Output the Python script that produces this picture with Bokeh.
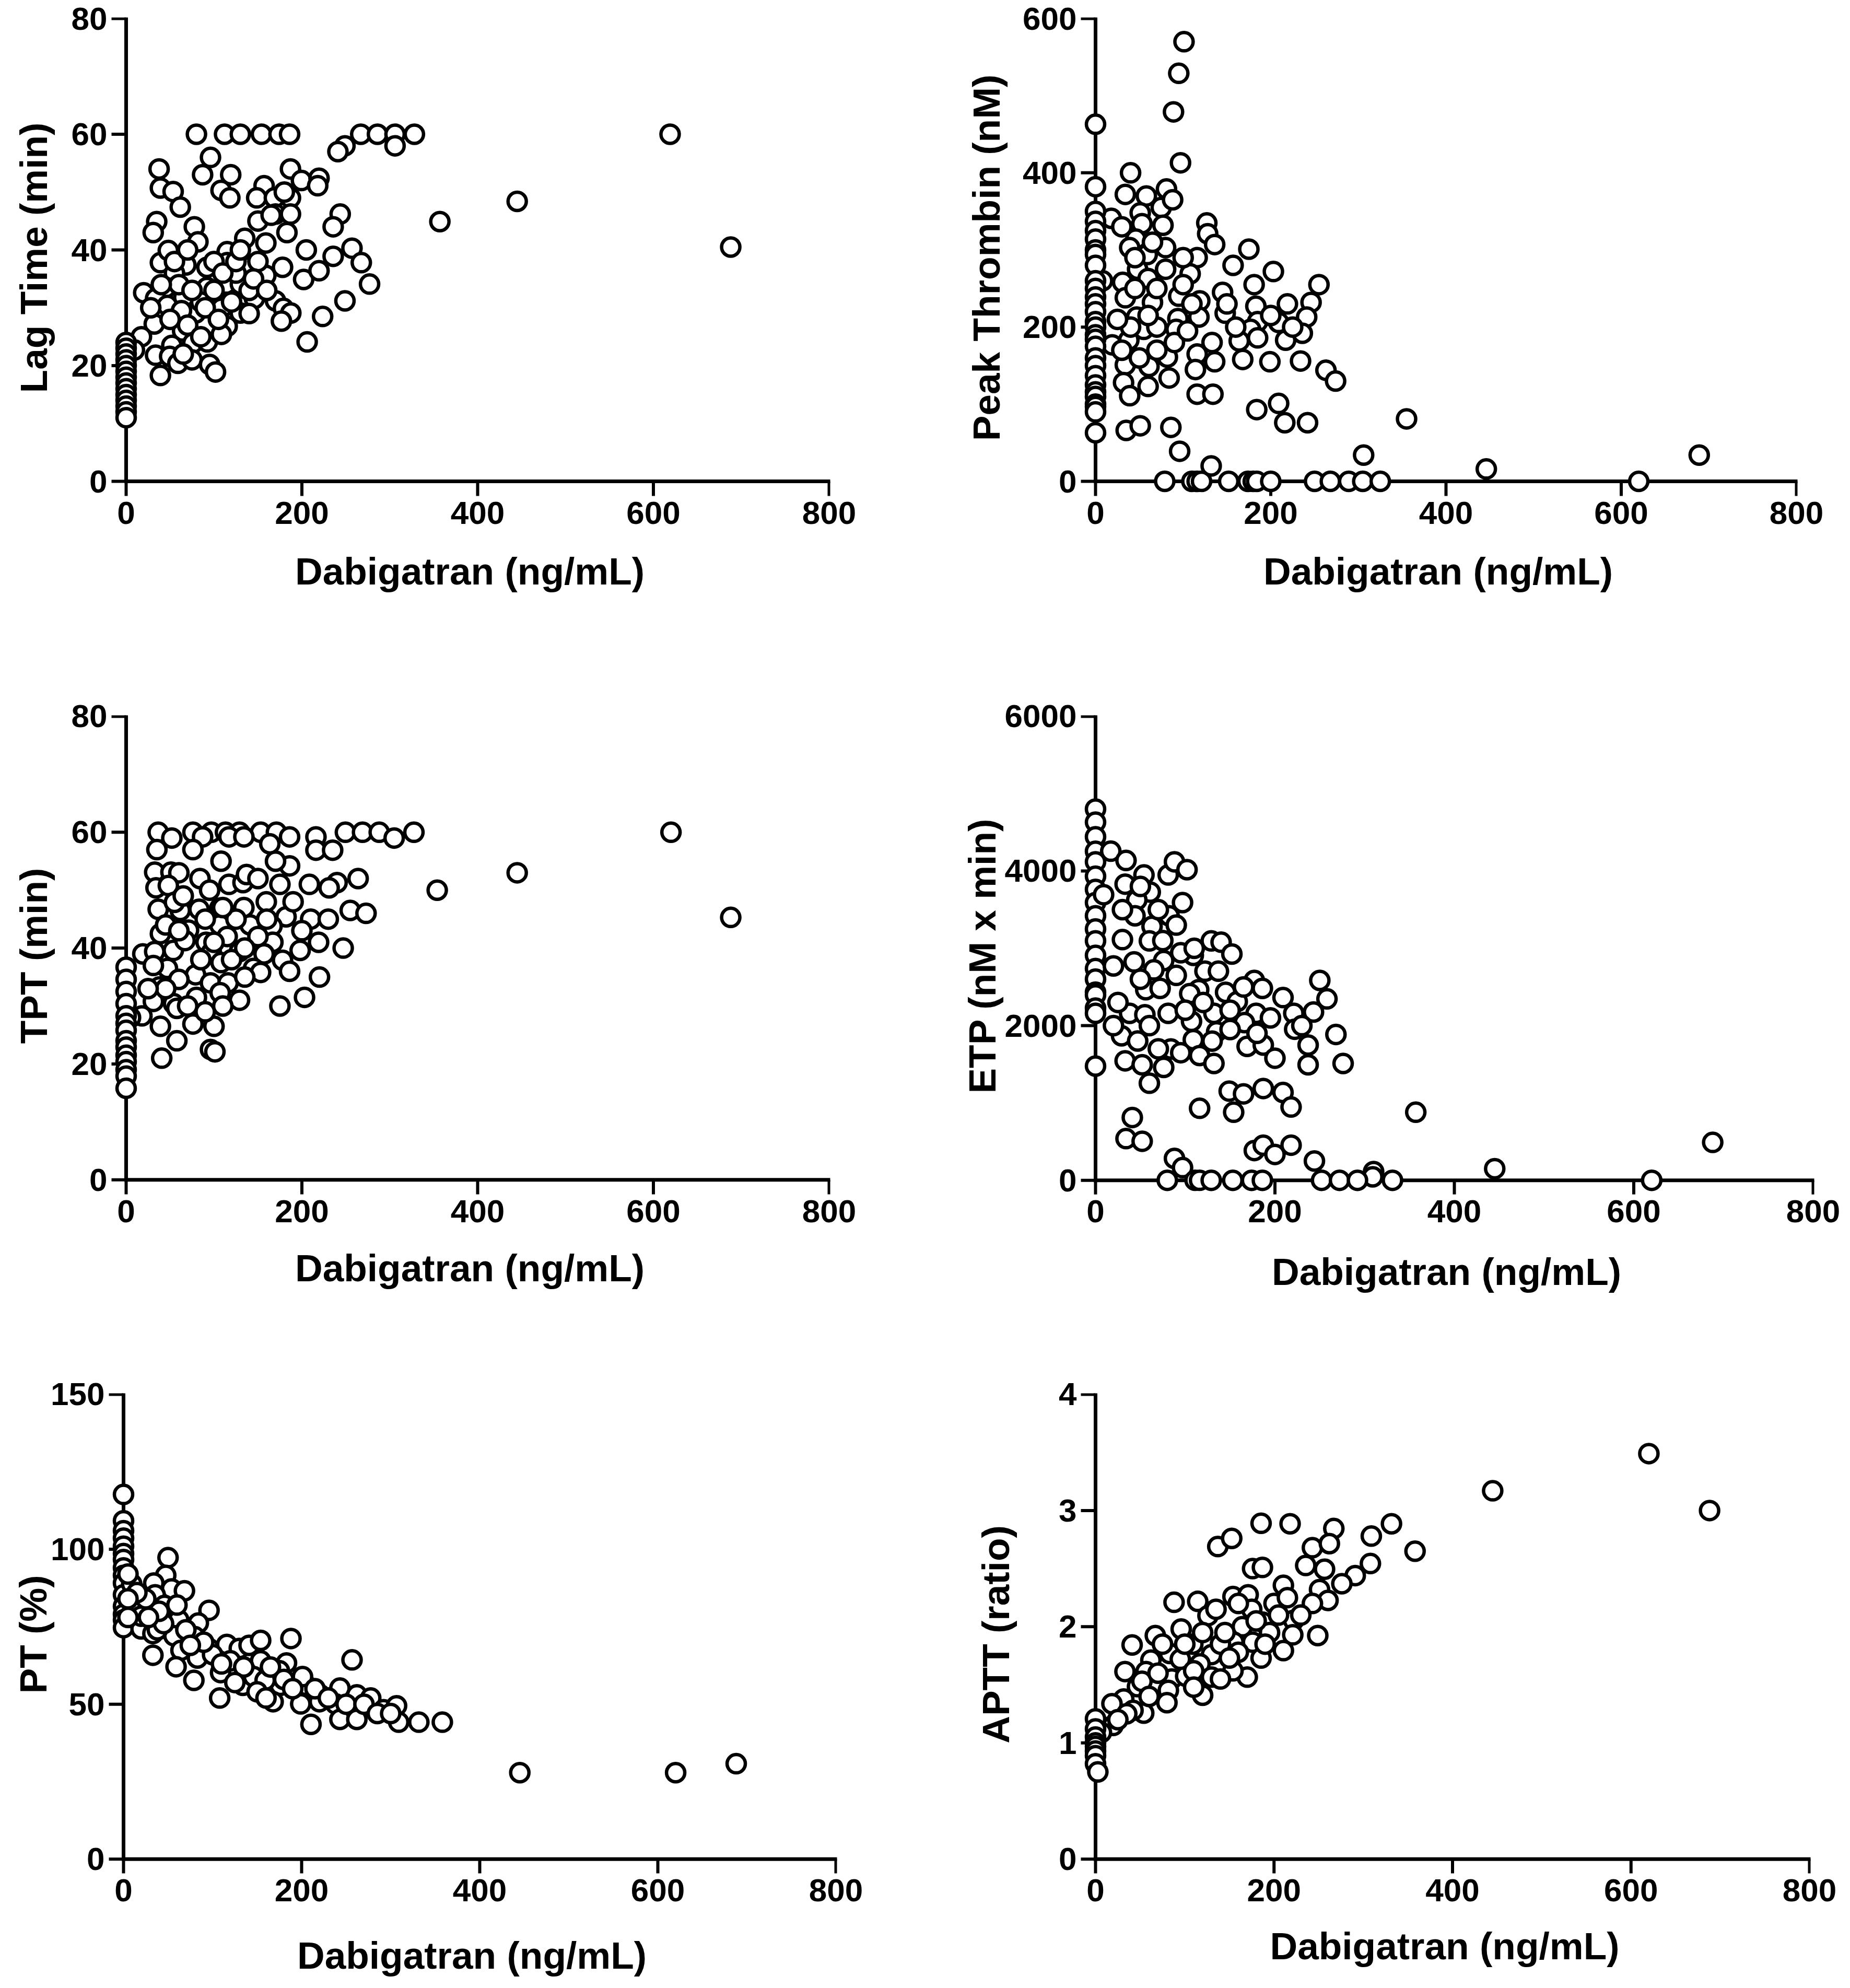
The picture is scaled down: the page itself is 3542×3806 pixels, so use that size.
from bokeh.embed import file_html
from bokeh.resources import INLINE
from bokeh.layouts import row, column
from bokeh.models import Range1d, FixedTicker, ColumnDataSource
from bokeh.plotting import figure

# ---- data (x = dabigatran ng/mL) ----
X_MAX = 800
x_ticks = [0, 200, 400, 600, 800]
x_title = "Dabigatran (ng/mL)"

lag_ticks = [0, 20, 40, 60, 80]
lag_points = [
    (80, 60), (112, 60), (130, 60), (154, 60), (174, 60), (186, 60), (267, 60), (286, 60),
    (306, 60), (328, 60), (619, 60), (249, 58), (241, 57), (306, 58),
    (96, 56), (87, 53), (119, 53), (108, 50.3), (118, 49), (37.5, 54), (39, 50.7), (53.5, 50.1),
    (61.6, 47.4), (187, 54), (199.5, 52), (219.5, 52.4), (218, 51.1), (157, 51.1), (148.6, 49),
    (168.7, 49), (187, 49), (170, 46.2), (187, 46.2), (183, 43), (243.6, 46.2), (235.6, 44),
    (357, 44.9), (34.8, 44.9), (30.8, 43), (77.6, 44), (81.7, 41.4), (135, 42), (159, 41.2),
    (115, 39.7), (115, 37.8), (39, 37.8), (48, 39.9), (68, 37.4), (92, 37), (136.5, 37),
    (159, 35.6), (178, 37), (55, 36), (45.5, 33.5), (92, 33.5), (113.8, 34.1), (130, 34.1),
    (20, 32.6), (33.5, 31.6), (65.6, 31.8), (46.9, 30.4), (79, 29.1), (108.4, 29.9), (130, 29.1),
    (146, 31.6), (170, 31.2), (179, 29.9), (187.4, 29.1), (176.7, 27.7), (115, 26.8), (63, 29.5),
    (32, 27.2), (64.3, 26), (17.4, 25), (52, 23.5), (76, 23.9), (92.4, 24.1), (108.4, 25.4),
    (9.4, 22.7), (33.5, 21.8), (49.5, 21.6), (58.9, 20.4), (75, 21), (95, 20.2), (101.7, 18.9),
    (39, 18.3), (202, 34.9), (219.5, 36.4), (235.6, 38.9), (257, 40.3), (267.6, 37.8),
    (277, 34.1), (249, 31.2), (223.6, 28.5), (206, 24.1), (445, 48.4), (688, 40.5),
    (100, 38), (125, 36), (140, 33), (85, 31), (60, 34), (70, 27), (120, 31), (150, 38),
    (50, 28), (90, 30), (100, 33), (110, 36), (125, 38), (130, 40), (145, 35), (160, 33),
    (75, 33), (40, 34), (28, 30), (65, 22), (85, 25), (105, 28), (140, 29), (55, 38),
    (70, 40), (150, 45), (165, 46), (205, 40), (180, 50),
    (0, 24), (0, 23), (0, 22), (0, 21), (0, 20), (0, 19), (0, 18), (0, 17), (0, 16),
    (0, 15), (0, 14), (0, 13), (0, 12), (0, 11),
]

peak_ticks = [0, 200, 400, 600]
peak_points = [
    (79, 0), (110, 0), (116, 0), (121, 0), (152, 0), (174, 0), (180, 0), (184, 0), (200, 0),
    (250, 0), (268, 0), (289, 0), (305, 0), (325, 0), (620, 0),
    (132, 20), (97, 413), (40, 400), (34, 372), (58, 370), (81, 379), (75, 355), (88, 365),
    (51, 348), (53, 334), (18, 341), (77, 332), (46, 314), (39, 303), (80, 303), (59, 294),
    (127, 335), (128, 321), (136, 307), (175, 301), (116, 290), (157, 280), (203, 272),
    (108, 269), (48, 275), (80, 275), (60, 263), (31, 258), (8, 260), (181, 255), (255, 255),
    (145, 245), (95, 240), (34, 238), (65, 232), (119, 234), (246, 232), (219, 230), (183, 227),
    (148, 218), (118, 213), (94, 211), (241, 213), (209, 206), (185, 207), (47, 213), (55, 197),
    (177, 197), (164, 182), (133, 180), (92, 197), (19, 177), (38, 183), (217, 183), (236, 192),
    (185, 186), (116, 165), (82, 161), (136, 155), (168, 158), (199, 155), (234, 156),
    (263, 144), (274, 130), (34, 151), (61, 149), (114, 145), (84, 134), (32, 128), (60, 123),
    (39, 111), (116, 113), (134, 113), (184, 93), (209, 101), (216, 76), (242, 76), (35, 66),
    (51, 72), (86, 70), (96, 39), (306, 34), (101, 570), (95, 529), (89, 479), (689, 34),
    (446, 16), (355, 81),
    (45, 250), (70, 250), (100, 255), (110, 230), (70, 200), (40, 200), (30, 170), (50, 160),
    (70, 170), (90, 180), (105, 195), (60, 215), (25, 210), (100, 290), (65, 310), (45, 290),
    (30, 330), (150, 230), (160, 200), (200, 215), (225, 200),
    (0, 463), (0, 382), (0, 350), (0, 337), (0, 325), (0, 314), (0, 300), (0, 294), (0, 280),
    (0, 260), (0, 250), (0, 239), (0, 230), (0, 220), (0, 207), (0, 200), (0, 190), (0, 184),
    (0, 175), (0, 160), (0, 150), (0, 137), (0, 125), (0, 116), (0, 110), (0, 100), (0, 97),
    (0, 90), (0, 63),
]

tpt_ticks = [0, 20, 40, 60, 80]
tpt_points = [
    (36.5, 60), (76, 60), (97, 60), (113, 60), (129, 60), (153, 60), (171, 60), (249.5, 60),
    (269, 60), (288, 60), (327.5, 60), (620, 60),
    (52, 59), (87, 59.2), (117, 59.2), (134, 59.2), (186, 59.2), (216, 59.2), (305, 59),
    (35, 57), (76, 57), (163.5, 58), (216, 56.9), (235, 56.9), (108, 55), (186, 54.2),
    (32.5, 53.1), (51, 53.1), (60, 53), (84, 52), (117, 51), (133, 51.3), (137, 52.7), (175, 51),
    (208.5, 51), (240, 51.3), (264, 52), (354, 50), (231, 50.4), (34, 50.4), (48, 50.8),
    (36.5, 46.7), (61.6, 46.5), (83, 46.7), (106.6, 46.9), (134, 47), (159.5, 48), (182, 45.4),
    (210, 45), (255, 46.5), (273, 46), (55, 47.9), (39, 42.5), (71, 43.1), (106.6, 44), (141, 44),
    (166, 43.8), (91, 41), (167, 41), (219, 41), (247, 40), (53.7, 39.6), (129, 39.4), (97, 39.2),
    (19, 39), (32.5, 39.4), (67, 41.3), (198, 39.6), (157, 39), (178, 37.9), (108, 37.5),
    (145, 36.5), (47, 36.5), (186, 36), (153, 35.8), (79, 35.4), (220, 35), (31, 37), (96, 34),
    (116, 34), (60, 34.6), (38, 33.3), (80, 31.5), (54, 30.4), (31, 30.8), (129, 31), (107, 32.3),
    (203, 31.5), (175, 30), (18, 28.3), (39, 26.5), (76, 26.9), (100, 26.5), (57.7, 24),
    (96, 22.5), (101, 22.1), (40.5, 21), (5, 28), (57.7, 29.6), (445, 53), (688, 45.3),
    (45, 44), (60, 43), (90, 45), (115, 42), (125, 45), (150, 42), (160, 45), (120, 38),
    (135, 40), (85, 38), (70, 30), (90, 29), (110, 30), (45, 33), (25, 33), (65, 49),
    (95, 50), (150, 52), (190, 48), (200, 43), (230, 45), (170, 55), (110, 47), (135, 35),
    (100, 41),
    (0, 36.7), (0, 34.6), (0, 32.5), (0, 30.4), (0, 28.3), (0, 27), (0, 25.8), (0, 24),
    (0, 22.9), (0, 21.5), (0, 20.4), (0, 19), (0, 17.9), (0, 15.8),
]

etp_ticks = [0, 2000, 4000, 6000]
etp_points = [
    (0, 4801), (0, 4631), (0, 4443), (0, 4255), (0, 4119), (0, 3932), (0, 3762), (0, 3591),
    (0, 3421), (0, 3250), (0, 3097), (0, 2909), (0, 2738), (0, 2602), (0, 2432), (0, 2397),
    (0, 2227), (0, 2159), (0, 1477),
    (17, 4256), (34, 4136), (54, 3949), (81, 3949), (88, 4119), (102, 4017), (33, 3830),
    (61, 3727), (9, 3693), (46, 3625), (97, 3591), (82, 3421), (44, 3421), (63, 3284), (30, 3113),
    (60, 3096), (76, 2841), (43, 2824), (20, 2772), (65, 2721), (109, 2909), (129, 3096),
    (140, 3079), (95, 2943), (152, 2926), (122, 2704), (137, 2704), (177, 2585), (250, 2585),
    (56, 2465), (72, 2482), (115, 2465), (105, 2414), (145, 2431), (186, 2482), (158, 2312),
    (209, 2363), (258, 2346), (38, 2159), (55, 2141), (81, 2159), (107, 2056), (132, 2159),
    (179, 2159), (221, 2159), (243, 2176), (166, 2039), (135, 1920), (109, 1818), (222, 1954),
    (268, 1886), (29, 1869), (47, 1801), (169, 1732), (187, 1749), (237, 1749), (84, 1698),
    (116, 1613), (132, 1511), (200, 1579), (237, 1494), (276, 1511), (33, 1545), (52, 1494),
    (76, 1460), (60, 1255), (149, 1153), (165, 1118), (187, 1187), (209, 1136), (218, 948),
    (154, 880), (116, 931), (357, 880), (41, 812), (34, 539), (52, 505), (88, 283), (97, 164),
    (177, 385), (187, 454), (200, 334), (218, 454), (244, 249), (310, 113), (309, 45),
    (50, 3800), (70, 3500), (90, 3300), (30, 3500), (110, 3000), (75, 3100), (90, 2650),
    (50, 2600), (100, 2200), (120, 2300), (150, 2200), (165, 2500), (195, 2100), (230, 2000),
    (60, 2000), (70, 1700), (95, 1650), (130, 1800), (150, 1950), (180, 1900), (25, 2300),
    (20, 2000),
    (80, 0), (111, 0), (116, 0), (129, 0), (153, 0), (174, 0), (186, 0), (252, 0), (272, 0),
    (292, 0), (331, 0), (620, 0), (445, 150), (688, 490),
]

pt_ticks = [0, 50, 100, 150]
pt_points = [
    (0, 117.7), (0, 109.2), (0, 106), (0, 103.6), (0, 101), (0, 98.6), (0, 96.7), (0, 94),
    (0, 91.6), (0, 89.1), (0, 85.3), (0, 81.6), (0, 79), (0, 77.2), (0, 74.7),
    (50, 97.3), (47.4, 91.6), (9.2, 88.8), (34, 89.1), (54, 87.2), (68.4, 86.6), (35.5, 85.3),
    (46, 81.9), (19.7, 80.9), (96, 80.3), (62, 77.2), (84, 76.2), (19.7, 74.3), (33, 72.8),
    (56.6, 72.1), (80, 71.8), (96, 68), (116, 69.3), (130, 68), (188, 71.2), (33, 65.8),
    (64.5, 67.4), (83, 64.9), (59, 62.1), (154, 64), (256.6, 64.3), (141, 69), (154, 70.6),
    (117, 61.1), (79, 57.7), (134, 56.1), (108, 52), (176, 56.1), (168, 50.8), (205, 56.1),
    (199, 50.1), (221, 53), (243, 55.2), (262, 53), (238, 50.1), (210.5, 43.5), (243, 45.1),
    (262, 45.1), (277.6, 52), (292, 48.2), (306.6, 49.5), (309, 44.2), (331.6, 44.2),
    (358, 44.2), (220, 50.8), (183, 63.3), (175, 60.8), (146, 58.9), (109, 60.2), (201, 58.9),
    (159, 57.7), (19.7, 78.4), (38, 74),
    (120, 64), (135, 62), (165, 62), (180, 58), (190, 55), (215, 55), (230, 52), (250, 50),
    (270, 50), (285, 47), (300, 47), (125, 57), (150, 54), (160, 52), (100, 66), (110, 63),
    (90, 70), (70, 74), (75, 69), (45, 76), (25, 84), (15, 86), (40, 80), (60, 82), (28, 78),
    (5, 92), (5, 84), (5, 78),
    (445, 27.9), (620, 27.9), (688, 30.8),
]

aptt_ticks = [0, 1, 2, 3, 4]
aptt_points = [
    (185.5, 2.89), (218, 2.886), (137, 2.69), (152.6, 2.76), (267, 2.845), (331.6, 2.886),
    (309, 2.78), (358, 2.65), (243, 2.68), (262, 2.715), (235.5, 2.527), (256.6, 2.495),
    (308, 2.544), (291, 2.44), (176, 2.5), (187, 2.51), (210.5, 2.356), (276, 2.37), (251, 2.32),
    (260.5, 2.226), (243, 2.2), (88, 2.21), (114.5, 2.218), (154, 2.26), (171, 2.275), (200, 2.2),
    (126, 2.095), (222, 2.055), (187, 2.04), (164.5, 2.0), (96, 1.98), (67, 1.924), (221, 1.93),
    (249, 1.924), (109, 1.85), (41, 1.843), (176, 1.867), (155, 1.867), (130, 1.76), (83, 1.77),
    (210.5, 1.794), (185.5, 1.73), (62, 1.712), (117, 1.68), (33, 1.614), (56.6, 1.614),
    (85.5, 1.55), (101, 1.574), (130, 1.566), (170, 1.566), (154, 1.62), (47, 1.484),
    (81.6, 1.452), (120, 1.41), (31.6, 1.378), (18.4, 1.337), (54, 1.256), (42, 1.28),
    (80, 1.346), (19.7, 1.15),
    (52, 1.53), (70, 1.6), (95, 1.72), (110, 1.62), (140, 1.85), (145, 1.95), (160, 1.78),
    (195, 1.95), (205, 2.1), (230, 2.1), (175, 2.15), (160, 2.2), (135, 2.15), (100, 1.85),
    (75, 1.85), (60, 1.4), (35, 1.25), (25, 1.2), (110, 1.48), (140, 1.55), (150, 1.73),
    (190, 1.85), (215, 2.25), (180, 2.05), (120, 1.95),
    (0, 1.207), (6.6, 1.09), (0, 1.12), (0, 1.05), (0, 1.0),
    (0, 0.97), (0, 0.93), (0, 0.89), (0, 0.82), (2.6, 0.75), (445, 3.17), (620, 3.49), (688, 3.0),
]

FONT = "Liberation Sans"
PAD = 32      # px between frame edge and the drawn axis line
EDGE = 2      # px of frame beyond the last tick
TICK = 28     # outward tick length, px
LINE = 7


def make_panel(points, y_ticks, y_label, ax, box, y_title_gap, x_title_gap):
    # ax: page px of x=0, x=800, y=max, y=0 ; box: page px of the figure
    ax_l, ax_r, ax_t, ax_b = ax
    fig_l, fig_r, fig_t, fig_b = box
    y_max = y_ticks[-1]
    ppx = (ax_r - ax_l) / X_MAX
    ppy = (ax_b - ax_t) / y_max

    p = figure(
        width=fig_r - fig_l, height=fig_b - fig_t,
        x_range=Range1d(-PAD / ppx, X_MAX + EDGE / ppx),
        y_range=Range1d(-PAD / ppy, y_max + EDGE / ppy),
        min_border_left=ax_l - PAD - fig_l, min_border_right=fig_r - ax_r - EDGE,
        min_border_top=ax_t - EDGE - fig_t, min_border_bottom=fig_b - ax_b - PAD,
        output_backend="svg", toolbar_location=None, title=None,
    )
    p.grid.visible = False
    p.outline_line_color = None
    p.background_fill_color = "white"
    p.border_fill_color = "white"

    p.xaxis.ticker = FixedTicker(ticks=x_ticks)
    p.yaxis.ticker = FixedTicker(ticks=y_ticks)
    p.xaxis.axis_label = x_title
    p.yaxis.axis_label = y_label
    for a in p.axis:
        a.axis_line_color = None
        a.major_tick_line_color = None
        a.minor_tick_line_color = None
        a.major_tick_in = 0
        a.major_tick_out = 0
        a.major_label_text_font = FONT
        a.major_label_text_font_style = "bold"
        a.major_label_text_font_size = "62px"
        a.major_label_text_color = "black"
        a.axis_label_text_font = FONT
        a.axis_label_text_font_style = "bold"
        a.axis_label_text_font_size = "73px"
        a.axis_label_text_color = "black"
    p.xaxis.major_label_standoff = 7
    p.yaxis.major_label_standoff = 4
    p.xaxis.axis_label_standoff = x_title_gap
    p.yaxis.axis_label_standoff = y_title_gap

    # Prism-style axes crossing at the origin
    p.segment(x0=[0, 0], y0=[0, 0], x1=[X_MAX, 0], y1=[0, y_max],
              line_width=LINE, line_color="black", line_cap="square")
    xt = ColumnDataSource(dict(x0=x_ticks, y0=[0] * len(x_ticks), x1=x_ticks,
                               y1=[-TICK / ppy] * len(x_ticks)))
    yt = ColumnDataSource(dict(x0=[0] * len(y_ticks), y0=y_ticks,
                               x1=[-TICK / ppx] * len(y_ticks), y1=y_ticks))
    p.segment(x0="x0", y0="y0", x1="x1", y1="y1", source=xt, line_width=LINE - 1, line_color="black")
    p.segment(x0="x0", y0="y0", x1="x1", y1="y1", source=yt, line_width=LINE - 1, line_color="black")

    xs = [pt[0] for pt in points]
    ys = [pt[1] for pt in points]
    p.scatter(xs, ys, marker="circle", size=35, fill_color="white",
              line_color="black", line_width=6.5)
    return p


p1 = make_panel(lag_points, lag_ticks, "Lag Time (min)",
                (249, 1595, 43, 929), (8, 1800, 8, 1300), 29, 47)
p2 = make_panel(peak_points, peak_ticks, "Peak Thrombin (nM)",
                (2105, 3447, 43, 929), (1800, 3534, 8, 1300), 26, 47)
p3 = make_panel(tpt_points, tpt_ticks, "TPT (min)",
                (249, 1595, 1379, 2273), (8, 1800, 1300, 2600), 29, 44)
p4 = make_panel(etp_points, etp_ticks, "ETP (nM x min)",
                (2105, 3479, 1345, 2266), (1800, 3534, 1300, 2600), 0, 51)
p5 = make_panel(pt_points, pt_ticks, "PT (%)",
                (244, 1608, 2654, 3566), (8, 1800, 2600, 3796), -10, 60)
p6 = make_panel(aptt_points, aptt_ticks, "APTT (ratio)",
                (2105, 3472, 2677, 3585), (1800, 3534, 2600, 3796), 77, 42)

layout = column(row(p1, p2), row(p3, p4), row(p5, p6))

open("out.html", "w").write(file_html(layout, INLINE))
